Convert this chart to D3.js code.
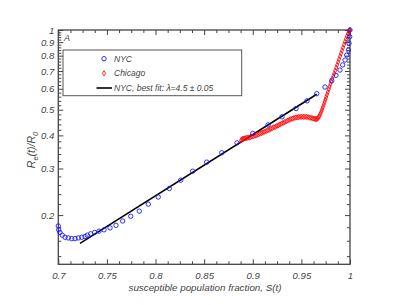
<html>
<head>
  <script src="https://d3js.org/d3.v7.min.js"></script>
  <style>
    body { margin: 0; background: #fff; }
    text { font-family: "Liberation Sans", Arial, sans-serif; font-style: italic; fill: #444; }
    .axis .domain { stroke: none; }
    .axis line { stroke: #444; }
  </style>
</head>
<body>
  <svg width="395" height="305" id="chart"></svg>
  <script>
    // NYC: susceptible fraction vs Re/R0
    const nycS = [0.7000, 0.7004, 0.7017, 0.7041, 0.7069, 0.7103, 0.7138, 0.7172, 0.7206, 0.7241,
      0.7275, 0.7298, 0.7333, 0.7374, 0.7419, 0.7470, 0.7532, 0.7593, 0.7662, 0.7745,
      0.7833, 0.7926, 0.8028, 0.8142, 0.8259, 0.8382, 0.8526, 0.8681, 0.8838, 0.9000,
      0.9157, 0.9301, 0.9445, 0.9558, 0.9658, 0.9743, 0.9812, 0.9856, 0.9897, 0.9925,
      0.9949, 0.9966, 0.9983, 0.9990, 0.9997, 1.0000];
    const nycR = [0.182, 0.176, 0.172, 0.168, 0.165, 0.164, 0.163, 0.163, 0.164, 0.165,
      0.166, 0.168, 0.170, 0.172, 0.174, 0.176, 0.179, 0.183, 0.190, 0.198,
      0.207, 0.220, 0.234, 0.252, 0.271, 0.293, 0.317, 0.344, 0.375, 0.407,
      0.438, 0.470, 0.505, 0.540, 0.575, 0.609, 0.643, 0.674, 0.706, 0.738,
      0.770, 0.804, 0.840, 0.891, 0.943, 1.000];

    // Chicago
    const chiS = [0.8880, 0.8887, 0.8896, 0.8907, 0.8920, 0.8934, 0.8948, 0.8962, 0.8977, 0.8992,
      0.9008, 0.9024, 0.9040, 0.9056, 0.9072, 0.9088, 0.9104, 0.9120, 0.9136, 0.9152,
      0.9168, 0.9184, 0.9200, 0.9216, 0.9232, 0.9248, 0.9264, 0.9280, 0.9296, 0.9312,
      0.9328, 0.9344, 0.9360, 0.9376, 0.9392, 0.9408, 0.9424, 0.9440, 0.9456, 0.9472,
      0.9488, 0.9504, 0.9520, 0.9536, 0.9552, 0.9568, 0.9584, 0.9600, 0.9614, 0.9628,
      0.9641, 0.9652, 0.9662, 0.9671, 0.9680, 0.9689, 0.9698, 0.9707, 0.9715, 0.9723,
      0.9731, 0.9739, 0.9747, 0.9755, 0.9763, 0.9772, 0.9781, 0.9790, 0.9799, 0.9808,
      0.9818, 0.9828, 0.9838, 0.9848, 0.9858, 0.9868, 0.9878, 0.9888, 0.9898, 0.9908,
      0.9918, 0.9928, 0.9938, 0.9948, 0.9958, 0.9968, 0.9978, 0.9988, 0.9996, 1.0000];
    const chiR = [0.383, 0.386, 0.388, 0.389, 0.390, 0.391, 0.392, 0.393, 0.394, 0.396,
      0.397, 0.399, 0.401, 0.403, 0.406, 0.408, 0.410, 0.413, 0.415, 0.418,
      0.420, 0.423, 0.426, 0.429, 0.431, 0.434, 0.437, 0.440, 0.443, 0.446,
      0.449, 0.452, 0.455, 0.458, 0.461, 0.463, 0.465, 0.467, 0.468, 0.469,
      0.470, 0.470, 0.470, 0.470, 0.470, 0.469, 0.467, 0.466, 0.464, 0.463,
      0.462, 0.461, 0.462, 0.465, 0.470, 0.477, 0.485, 0.494, 0.503, 0.513,
      0.524, 0.535, 0.546, 0.558, 0.570, 0.583, 0.597, 0.611, 0.625, 0.639,
      0.654, 0.670, 0.686, 0.703, 0.720, 0.738, 0.757, 0.776, 0.796, 0.816,
      0.837, 0.858, 0.880, 0.902, 0.925, 0.947, 0.968, 0.985, 0.996, 1.000];

    // best fit line end points
    const fitS = [0.7223, 0.9658];
    const fitR = [0.1565, 0.572];

    const xTicks = [0.7, 0.75, 0.8, 0.85, 0.9, 0.95, 1];
    const yTicks = [0.2, 0.3, 0.4, 0.5, 0.6, 0.7, 0.8, 0.9, 1];

    const svg = d3.select("#chart");
    const plotLeft = 58.3, plotRight = 350, plotTop = 30, plotBottom = 264.3;

    const xScale = d3.scaleLinear().domain([0.7, 1]).range([plotLeft, plotRight]);
    const yScale = d3.scaleLog().domain([0.1304, 1]).range([plotBottom, plotTop]);

    const xMinor = d3.range(0.7, 1.0001, 0.0125).filter(v => Math.abs(v * 20 - Math.round(v * 20)) > 1e-6);
    const yMinor = d3.range(0.14, 1, 0.02).filter(v => Math.abs(v * 10 - Math.round(v * 10)) > 1e-6);

    // bottom axis with labels, ticks pointing inward
    svg.append("g")
      .attr("class", "axis")
      .attr("transform", `translate(0,${plotBottom})`)
      .call(d3.axisBottom(xScale).tickValues(xTicks).tickSizeInner(-5).tickSizeOuter(0).tickPadding(8)
        .tickFormat(d => String(d)))
      .call(g => g.selectAll("text").style("font-size", "9.6px").attr("fill", "#444"));
    svg.append("g")
      .attr("class", "axis")
      .attr("transform", `translate(0,${plotBottom})`)
      .call(d3.axisBottom(xScale).tickValues(xMinor).tickSizeInner(-3).tickSizeOuter(0).tickFormat(""));

    // top axis (ticks only)
    svg.append("g")
      .attr("class", "axis")
      .attr("transform", `translate(0,${plotTop})`)
      .call(d3.axisTop(xScale).tickValues(xTicks).tickSizeInner(-5).tickSizeOuter(0).tickFormat(""));
    svg.append("g")
      .attr("class", "axis")
      .attr("transform", `translate(0,${plotTop})`)
      .call(d3.axisTop(xScale).tickValues(xMinor).tickSizeInner(-3).tickSizeOuter(0).tickFormat(""));

    // left axis
    svg.append("g")
      .attr("class", "axis")
      .attr("transform", `translate(${plotLeft},0)`)
      .call(d3.axisLeft(yScale).tickValues(yTicks).tickSizeInner(-5).tickSizeOuter(0).tickPadding(4)
        .tickFormat(d => String(d)))
      .call(g => g.selectAll("text").style("font-size", "9.6px").attr("fill", "#444"));
    svg.append("g")
      .attr("class", "axis")
      .attr("transform", `translate(${plotLeft},0)`)
      .call(d3.axisLeft(yScale).tickValues(yMinor).tickSizeInner(-3).tickSizeOuter(0).tickFormat(""));

    // right axis (ticks only)
    svg.append("g")
      .attr("class", "axis")
      .attr("transform", `translate(${plotRight},0)`)
      .call(d3.axisRight(yScale).tickValues(yTicks).tickSizeInner(-5).tickSizeOuter(0).tickFormat(""));
    svg.append("g")
      .attr("class", "axis")
      .attr("transform", `translate(${plotRight},0)`)
      .call(d3.axisRight(yScale).tickValues(yMinor).tickSizeInner(-3).tickSizeOuter(0).tickFormat(""));

    // frame
    svg.append("rect")
      .attr("x", plotLeft).attr("y", plotTop)
      .attr("width", plotRight - plotLeft).attr("height", plotBottom - plotTop)
      .attr("fill", "none").attr("stroke", "#444").attr("stroke-width", 1.3);

    // fit line
    const line = d3.line().x(d => xScale(d[0])).y(d => yScale(d[1]));
    svg.append("path")
      .datum(fitS.map((s, i) => [s, fitR[i]]))
      .attr("d", line)
      .attr("fill", "none").attr("stroke", "black").attr("stroke-width", 1.6);

    // Chicago diamonds
    const diamond = d3.symbol().type(d3.symbolDiamond).size(8);
    chiS.forEach((s, i) => {
      svg.append("path")
        .attr("d", diamond())
        .attr("transform", `translate(${xScale(s)},${yScale(chiR[i])})`)
        .attr("fill", "none").attr("stroke", "red").attr("stroke-width", 0.8);
    });

    // NYC circles
    nycS.forEach((s, i) => {
      svg.append("circle")
        .attr("cx", xScale(s))
        .attr("cy", yScale(nycR[i]))
        .attr("r", 2.2)
        .attr("fill", "none").attr("stroke", "#1a1aff").attr("stroke-width", 0.9);
    });

    // panel letter
    svg.append("text").attr("x", 64).attr("y", 41).style("font-size", "9px").text("A");

    // legend
    svg.append("rect")
      .attr("x", 63).attr("y", 50).attr("width", 178.7).attr("height", 45.7)
      .attr("fill", "white").attr("stroke", "#555").attr("stroke-width", 1);
    svg.append("circle").attr("cx", 104).attr("cy", 58.7).attr("r", 2.2)
      .attr("fill", "none").attr("stroke", "#1a1aff").attr("stroke-width", 0.9);
    svg.append("text").attr("x", 114).attr("y", 61.8).style("font-size", "8.5px").text("NYC");
    svg.append("path").attr("d", diamond()).attr("transform", "translate(104,73.3)")
      .attr("fill", "none").attr("stroke", "red").attr("stroke-width", 0.8);
    svg.append("text").attr("x", 114).attr("y", 76.4).style("font-size", "8.5px").text("Chicago");
    svg.append("line").attr("x1", 96.5).attr("x2", 112).attr("y1", 88).attr("y2", 88)
      .attr("stroke", "black").attr("stroke-width", 1.6);
    svg.append("text").attr("x", 114).attr("y", 91.1).style("font-size", "8.5px")
      .text("NYC, best fit: λ=4.5 ± 0.05");

    // x-axis label
    svg.append("text")
      .attr("x", 205).attr("y", 290.5)
      .style("text-anchor", "middle").style("font-size", "9.8px")
      .text("susceptible population fraction, S(t)");

    // y-axis label
    const yLab = svg.append("text")
      .attr("transform", "translate(35,150) rotate(-90)")
      .style("text-anchor", "middle").style("font-size", "10.5px");
    yLab.append("tspan").text("R");
    yLab.append("tspan").attr("dy", 3).style("font-size", "7.5px").text("e");
    yLab.append("tspan").attr("dy", -3).text("(t)/R");
    yLab.append("tspan").attr("dy", 3).style("font-size", "7.5px").text("0");
  </script>
</body>
</html>
